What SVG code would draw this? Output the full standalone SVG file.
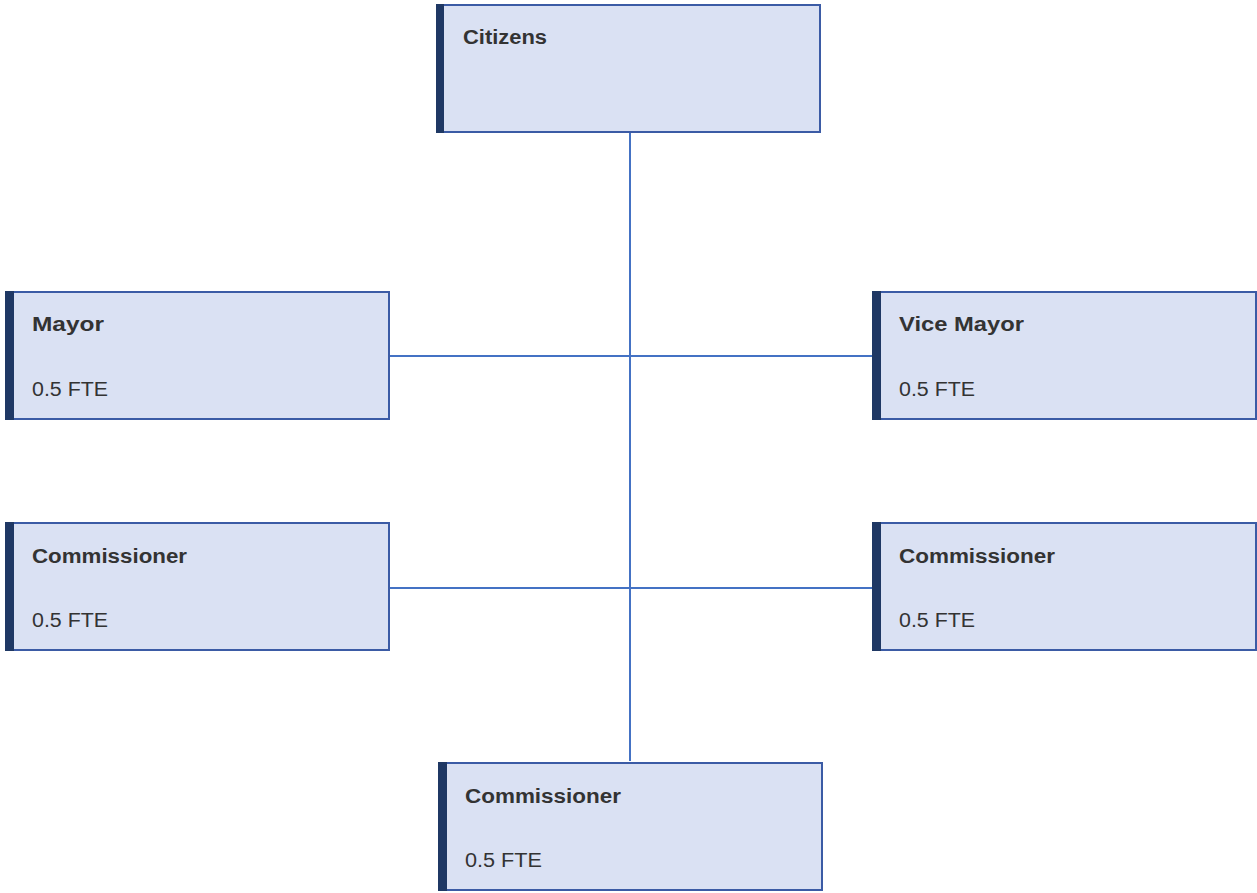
<svg xmlns="http://www.w3.org/2000/svg" width="1257" height="893" viewBox="0 0 1257 893">
<style>
.box{fill:#DAE1F3;stroke:#3B5BA5;stroke-width:2}
.bar{fill:#1F3864}
.t{font-family:"Liberation Sans",Arial,sans-serif;font-size:20px;fill:#333333}
.b{font-weight:bold}
.conn{stroke:#4472C4;stroke-width:2;fill:none}
</style>
<rect width="1257" height="893" fill="#ffffff"/>
<g id="connectors">
<line class="conn" x1="630" y1="132" x2="630" y2="761"/>
<line class="conn" x1="389" y1="356" x2="872" y2="356"/>
<line class="conn" x1="389" y1="588" x2="872" y2="588"/>
</g>
<g id="citizens">
<rect class="box" x="437" y="5" width="383" height="127"/>
<rect class="bar" x="436" y="4" width="8" height="129"/>
<text class="t b" x="463" y="44" textLength="84" lengthAdjust="spacingAndGlyphs">Citizens</text>
</g>
<g id="mayor">
<rect class="box" x="6" y="292" width="383" height="127"/>
<rect class="bar" x="5" y="291" width="9" height="129"/>
<text class="t b" x="32" y="331" textLength="72" lengthAdjust="spacingAndGlyphs">Mayor</text>
<text class="t" x="32" y="396" textLength="76" lengthAdjust="spacingAndGlyphs">0.5 FTE</text>
</g>
<g id="vice-mayor">
<rect class="box" x="873" y="292" width="383" height="127"/>
<rect class="bar" x="872" y="291" width="9" height="129"/>
<text class="t b" x="899" y="331" textLength="125" lengthAdjust="spacingAndGlyphs">Vice Mayor</text>
<text class="t" x="899" y="396" textLength="76" lengthAdjust="spacingAndGlyphs">0.5 FTE</text>
</g>
<g id="commissioner-left">
<rect class="box" x="6" y="523" width="383" height="127"/>
<rect class="bar" x="5" y="522" width="9" height="129"/>
<text class="t b" x="32" y="563" textLength="155" lengthAdjust="spacingAndGlyphs">Commissioner</text>
<text class="t" x="32" y="627" textLength="76" lengthAdjust="spacingAndGlyphs">0.5 FTE</text>
</g>
<g id="commissioner-right">
<rect class="box" x="873" y="523" width="383" height="127"/>
<rect class="bar" x="872" y="522" width="9" height="129"/>
<text class="t b" x="899" y="563" textLength="156" lengthAdjust="spacingAndGlyphs">Commissioner</text>
<text class="t" x="899" y="627" textLength="76" lengthAdjust="spacingAndGlyphs">0.5 FTE</text>
</g>
<g id="commissioner-bottom">
<rect class="box" x="440" y="763" width="382" height="127"/>
<rect class="bar" x="438" y="762" width="9" height="129"/>
<text class="t b" x="465" y="803" textLength="156" lengthAdjust="spacingAndGlyphs">Commissioner</text>
<text class="t" x="465" y="867" textLength="77" lengthAdjust="spacingAndGlyphs">0.5 FTE</text>
</g>
</svg>
